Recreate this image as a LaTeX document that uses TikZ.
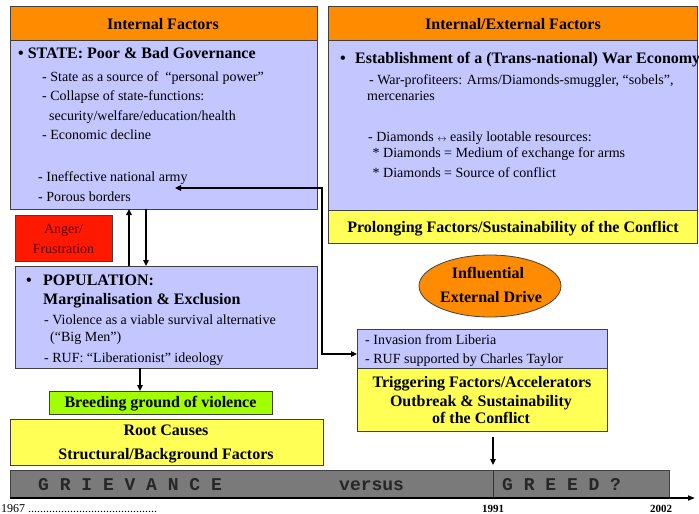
\documentclass[tikz,border=0pt]{standalone}
\usepackage{fontspec}
\setmainfont{Liberation Serif}
\setmonofont{Liberation Mono}
\usetikzlibrary{arrows.meta,shapes.geometric,calc}

\definecolor{hdorange}{RGB}{255,140,0}
\definecolor{bodyblue}{RGB}{195,198,255}
\definecolor{noteyellow}{RGB}{255,255,85}
\definecolor{limegreen}{RGB}{160,255,0}
\definecolor{alarmred}{RGB}{255,25,0}
\definecolor{alarmtext}{RGB}{95,0,0}
\definecolor{bargray}{RGB}{122,122,122}

\tikzset{
  panel/.style={draw=black!75, line width=0.8pt, anchor=north west, inner sep=0pt, outer sep=0pt},
  bold16/.style={font=\bfseries\fontsize{16}{19}\selectfont, inner sep=0pt, anchor=base},
  item/.style={font=\fontsize{14}{17}\selectfont, inner sep=0pt, anchor=base west},
  plain/.style={font=\fontsize{14}{17}\selectfont, inner sep=0pt, anchor=base},
  spaced/.style={font=\ttfamily\bfseries\fontsize{18}{20}\selectfont, text=black!85, inner sep=0pt, anchor=base west},
  small/.style={font=\fontsize{11}{12}\selectfont, inner sep=0pt, anchor=base},
  link/.style={line width=1.3pt, -{Triangle[length=6pt,width=5.5pt]}},
  duallink/.style={line width=1.3pt, {Triangle[length=6pt,width=5.5pt]}-{Triangle[length=6pt,width=5.5pt]}},
}

\begin{document}
\begin{tikzpicture}[x=1pt,y=-1pt]
\useasboundingbox (0,0) rectangle (699,514);

% ---------- Internal factors ----------
\node[panel, fill=bodyblue, minimum width=307pt, minimum height=169pt] (state) at (10,40) {};
\node[panel, fill=hdorange, minimum width=307pt, minimum height=34pt] (inthead) at (10,6) {};
\node[bold16] (intlabel) at (163,29) {Internal Factors};
\node[bold16, anchor=base west] (statehead) at (18,58.5) {\textbullet\ STATE: Poor \& Bad Governance};
\node[item] (s1) at (42,81) {- State as a source of \ “personal power”};
\node[item] (s2) at (42,100.5) {- Collapse of state-functions:};
\node[item] (s3) at (49,120) {security/welfare/education/health};
\node[item] (s4) at (42,139) {- Economic decline};
\node[item] (s5) at (38,181) {- Ineffective national army};
\node[item] (s6) at (38,201) {- Porous borders};

% ---------- Internal / external factors ----------
\node[panel, fill=bodyblue, minimum width=369pt, minimum height=170pt] (economy) at (328,40) {};
\node[panel, fill=hdorange, minimum width=369pt, minimum height=34pt] (exthead) at (328,6) {};
\node[panel, fill=noteyellow, minimum width=369pt, minimum height=33pt] (prolong) at (328,210) {};
\node[bold16] (extlabel) at (513,29) {Internal/External Factors};
\node[bold16, anchor=base west] (ecobullet) at (340,63) {\textbullet};
\node[bold16, anchor=base west] (ecohead) at (355,63) {Establishment of a (Trans-national) War Economy};
\node[item] (e1) at (369,84) {- War-profiteers: Arms/Diamonds-smuggler, “sobels”,};
\node[item] (e2) at (367,100) {mercenaries};
\node[item] (e3) at (368,141) {- Diamonds {\fontsize{9}{10}\selectfont$\leftrightarrow$} easily lootable resources:};
\node[item] (e4) at (369,157) {\ * Diamonds = Medium of exchange for arms};
\node[item] (e5) at (369,177) {\ * Diamonds = Source of conflict};
\node[bold16] (prolabel) at (513,232) {Prolonging Factors/Sustainability of the Conflict};

% ---------- Anger ----------
\node[panel, fill=alarmred, minimum width=97pt, minimum height=46pt] (anger) at (15,215) {};
\node[plain, text=alarmtext] (ang1) at (63.5,233) {Anger/};
\node[plain, text=alarmtext] (ang2) at (63.5,253) {Frustration};

% ---------- Population ----------
\node[panel, fill=bodyblue, minimum width=302pt, minimum height=102pt] (pop) at (15,266) {};
\node[bold16, anchor=base west] (popbullet) at (26,285) {\textbullet};
\node[bold16, anchor=base west] (pophead1) at (43,285) {POPULATION:};
\node[bold16, anchor=base west] (pophead2) at (43,304) {Marginalisation \& Exclusion};
\node[item] (p1) at (44,324) {- Violence as a viable survival alternative};
\node[item] (p2) at (50,341) {(“Big Men”)};
\node[item] (p3) at (44,362) {- RUF: “Liberationist” ideology};

% ---------- Breeding ground & root causes ----------
\node[panel, fill=limegreen, minimum width=223pt, minimum height=23pt] (breed) at (49,391) {};
\node[bold16] (breedlabel) at (160.5,407) {Breeding ground of violence};
\node[panel, fill=noteyellow, minimum width=313pt, minimum height=46pt] (root) at (10,419) {};
\node[bold16] (root1) at (166,435) {Root Causes};
\node[bold16] (root2) at (166,459) {Structural/Background Factors};

% ---------- External drive ----------
\node[ellipse, draw=black!75, line width=0.8pt, fill=hdorange, minimum width=142pt, minimum height=62pt, inner sep=0pt] (drive) at (490,286) {};
\node[bold16] (drive1) at (488,278) {Influential};
\node[bold16] (drive2) at (491,302) {External Drive};

% ---------- Triggering factors ----------
\node[panel, fill=bodyblue, minimum width=250pt, minimum height=39pt] (inv) at (357,329) {};
\node[panel, fill=noteyellow, minimum width=250pt, minimum height=63pt] (trig) at (357,368) {};
\node[item] (i1) at (365,344) {- Invasion from Liberia};
\node[item] (i2) at (365,363) {- RUF supported by Charles Taylor};
\node[bold16] (t1) at (482,387) {Triggering Factors/Accelerators};
\node[bold16] (t2) at (481,406) {Outbreak \& Sustainability};
\node[bold16] (t3) at (481,423) {of the Conflict};

% ---------- Time bar ----------
\node[panel, fill=bargray, minimum width=659pt, minimum height=28pt] (bar) at (10,470) {};
\coordinate (split) at (493,470);
\draw[black!80, line width=0.8pt] (split) -- (split |- bar.south);
\node[spaced] (grievance) at (38,490) {G R I E V A N C E};
\node[spaced] (versus) at (339,490) {versus};
\node[spaced] (greed) at (502,490) {G R E E D ?};
\coordinate (axisstart) at (10,498);
\coordinate (axisend) at (695,498);
\draw[line width=1.6pt, -{Triangle[length=7pt,width=5pt]}] (axisstart) -- (axisend);
\node[small, font=\fontsize{12}{13}\selectfont, anchor=base west] (y1967) at (1,512) {1967 ...........................................};
\node[small, font=\bfseries\fontsize{11}{12}\selectfont] (y1991) at (493,512) {1991};
\node[small, font=\bfseries\fontsize{11}{12}\selectfont] (y2002) at (661,512) {2002};

% ---------- Connectors ----------
\coordinate (upx) at (129,0);
\coordinate (downx) at (146,0);
\coordinate (breedx) at (140,0);
\draw[link] (upx |- pop.north) -- (upx |- state.south);
\draw[link] (downx |- state.south) -- (downx |- pop.north);
\draw[link] (breedx |- pop.south) -- (breedx |- breed.north);
\coordinate (army) at (175,188);
\coordinate (bend) at (322,354);
\draw[duallink] (army) -| (bend) -- (bend -| inv.west);
\draw[link] ($(trig.south -| split)+(0,6)$) -- ($(split)+(0,-5)$);
\end{tikzpicture}
\end{document}
